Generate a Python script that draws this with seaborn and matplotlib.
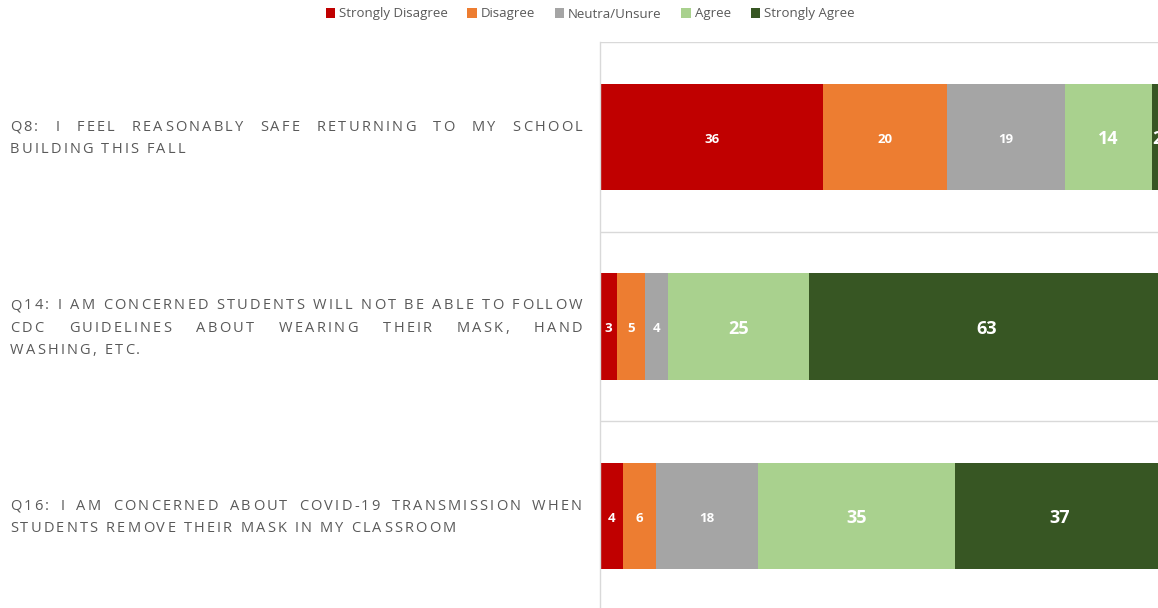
import numpy as np
import pandas as pd
import matplotlib
matplotlib.use("Agg")
import matplotlib.pyplot as plt
from matplotlib.patches import Patch
import seaborn as sns

# Survey responses (raw counts shown as labels, bars are 100% stacked)
questions = [
    "Q8: I FEEL REASONABLY SAFE RETURNING TO MY SCHOOL\nBUILDING THIS FALL",
    "Q14: I AM CONCERNED STUDENTS WILL NOT BE ABLE TO FOLLOW\nCDC GUIDELINES ABOUT WEARING THEIR MASK, HAND\nWASHING, ETC.",
    "Q16: I AM CONCERNED ABOUT COVID-19 TRANSMISSION WHEN\nSTUDENTS REMOVE THEIR MASK IN MY CLASSROOM",
]
levels = ["Strongly Disagree", "Disagree", "Neutra/Unsure", "Agree", "Strongly Agree"]
strongly_disagree = [36, 3, 4]
disagree = [20, 5, 6]
neutral = [19, 4, 18]
agree = [14, 25, 35]
strongly_agree = [2, 63, 37]
colors = ["#C00000", "#ED7D31", "#A5A5A5", "#A9D18E", "#375623"]

df = pd.DataFrame({
    "question": [f"q{i}" for i in range(len(questions))],
    "Strongly Disagree": strongly_disagree,
    "Disagree": disagree,
    "Neutra/Unsure": neutral,
    "Agree": agree,
    "Strongly Agree": strongly_agree,
})
pct = df[levels].div(df[levels].sum(axis=1), axis=0) * 100
cum = pct.cumsum(axis=1)
cum["question"] = df["question"]

sns.set_style("white")
plt.rcParams["font.family"] = ["Open Sans", "DejaVu Sans"]

W, H = 1158, 608
fig = plt.figure(figsize=(W / 100, H / 100), dpi=100)
ax = fig.add_axes([600 / W, 1 - 611 / H, 564 / W, (611 - 42) / H])

# Draw from the full cumulative bar down to the first segment
for lvl, col in reversed(list(zip(levels, colors))):
    sns.barplot(data=cum, x=lvl, y="question", color=col, orient="h",
                width=0.56, ax=ax, saturation=1, linewidth=0)

ax.set_xlim(0, 100)
ax.set_ylim(2.5, -0.5)
ax.set_xticks([])
ax.set_yticks([])
ax.set_xlabel("")
ax.set_ylabel("")
for s in ["top", "right", "bottom"]:
    ax.spines[s].set_visible(False)
ax.spines["left"].set_color("#D9D9D9")
ax.spines["left"].set_linewidth(1)
for yb in [-0.5, 0.5, 1.5, 2.5]:
    ax.axhline(yb, color="#D9D9D9", lw=1, zorder=0)

# Data labels
big = {"Agree", "Strongly Agree"}
for i in range(len(questions)):
    left = 0
    for lvl in levels:
        w = pct.loc[i, lvl]
        ax.text(left + w / 2, i + 0.012, str(df.loc[i, lvl]), ha="center", va="center",
                color="white", fontweight="bold",
                fontsize=13 if lvl in big else 9.5, clip_on=False)
        left += w

# Justified, letter-spaced category labels
renderer = fig.canvas.get_renderer()
FS = 10.5
TRACK = 2.2
x0, x1 = 10, 582
centers = [138.5, 328, 517.5]
lh = 22.3


def char_width(ch):
    t = fig.text(0, 0, ch, fontsize=FS)
    w_ = t.get_window_extent(renderer).width
    t.remove()
    return w_


space_w = char_width("a a") - char_width("aa") + TRACK * 2
for q, yc in zip(questions, centers):
    lines = q.split("\n")
    ytop = yc - lh * (len(lines) - 1) / 2
    for k, line in enumerate(lines):
        y = (H - (ytop + k * lh)) / H
        words = line.split()
        cw = [[char_width(c) for c in wd] for wd in words]
        widths = [sum(c) + TRACK * (len(c) - 1) for c in cw]
        if k < len(lines) - 1 and len(words) > 1:
            gap = (x1 - x0 - sum(widths)) / (len(words) - 1)
        else:
            gap = space_w
        x = x0
        for wd, c, wdw in zip(words, cw, widths):
            xc = x
            for ch, chw in zip(wd, c):
                fig.text(xc / W, y, ch, fontsize=FS, color="#595959", va="center")
                xc += chw + TRACK
            x += wdw + gap

handles = [Patch(facecolor=c, edgecolor="none") for c in colors]
fig.legend(handles, levels, loc="center", bbox_to_anchor=(590 / W, 1 - 14 / H),
           ncol=5, frameon=False, fontsize=9.5, labelcolor="#595959",
           handlelength=0.7, handleheight=0.7, handletextpad=0.3, columnspacing=1.5)

fig.savefig("out.png", dpi=100)
